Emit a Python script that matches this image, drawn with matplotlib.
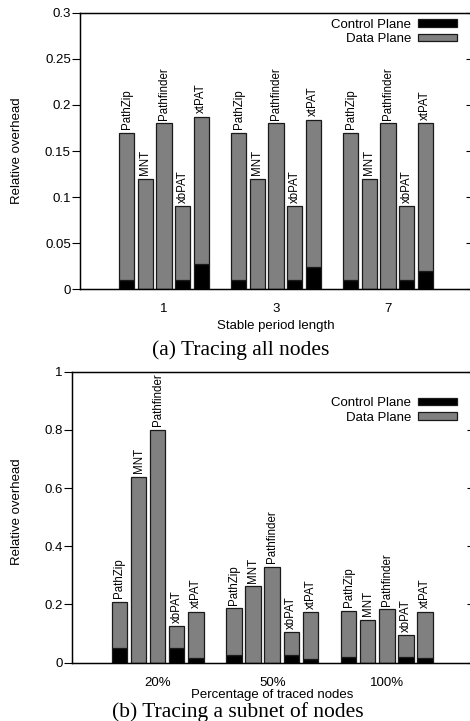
import matplotlib
matplotlib.use('Agg')
import matplotlib.pyplot as plt
import numpy as np

plt.rcParams['font.family'] = ['Liberation Sans', 'DejaVu Sans']

methods = ['PathZip', 'MNT', 'Pathfinder', 'xbPAT', 'xtPAT']

# (a) tracing all nodes
groups_a = ['1', '3', '7']
control_a = [[0.010, 0.0, 0.0, 0.010, 0.027],
             [0.010, 0.0, 0.0, 0.010, 0.024],
             [0.010, 0.0, 0.0, 0.010, 0.020]]
data_a = [[0.160, 0.120, 0.180, 0.080, 0.160],
          [0.160, 0.120, 0.180, 0.080, 0.160],
          [0.160, 0.120, 0.180, 0.080, 0.160]]

# (b) tracing a subnet of nodes
groups_b = ['20%', '50%', '100%']
control_b = [[0.050, 0.0, 0.0, 0.050, 0.015],
             [0.026, 0.0, 0.0, 0.025, 0.013],
             [0.020, 0.0, 0.0, 0.020, 0.016]]
data_b = [[0.160, 0.639, 0.800, 0.076, 0.160],
          [0.161, 0.263, 0.329, 0.079, 0.160],
          [0.158, 0.147, 0.183, 0.075, 0.159]]


def draw(ax, groups, control, data, ymax, yticks, yticklabels, xlabel,
         leg_anchor):
    n = len(methods)
    width = 0.135
    for g in range(len(groups)):
        for i in range(n):
            x = g + (i - 2) / 6.0
            c = control[g][i]
            d = data[g][i]
            ax.bar(x, c, width, color='black', edgecolor='#1a1a1a', lw=0.9,
                   label='Control Plane' if g == 0 and i == 0 else None)
            ax.bar(x, d, width, bottom=c, color='#808080', edgecolor='#1a1a1a',
                   lw=0.9, label='Data Plane' if g == 0 and i == 0 else None)
            ax.annotate(methods[i], (x, c + d), xytext=(0, 2.5),
                        textcoords='offset points', rotation=90,
                        ha='center', va='bottom', fontsize=8.3)
    ax.set_xlim(-0.75, 2.75)
    ax.set_ylim(0, ymax)
    ax.set_xticks(range(len(groups)))
    ax.set_xticklabels(groups, fontsize=9.5)
    ax.set_yticks(yticks)
    ax.set_yticklabels(yticklabels, fontsize=9.5)
    ax.tick_params(axis='x', length=0, pad=10)
    ax.tick_params(axis='y', direction='out', length=5.8, width=0.8, pad=0.8)
    ax.set_xlabel(xlabel, fontsize=9.5, labelpad=3.5)
    ax.set_ylabel('Relative overhead', fontsize=9.5)
    for s in ax.spines.values():
        s.set_linewidth(1.0)
    # mirrored ticks on the right
    ax2 = ax.twinx()
    ax2.set_ylim(0, ymax)
    ax2.set_yticks(yticks)
    ax2.set_yticklabels([])
    ax2.tick_params(axis='y', direction='in', length=4, width=0.8)
    leg = ax.legend(loc='upper right', bbox_to_anchor=leg_anchor,
                    frameon=False, markerfirst=False, fontsize=9.5,
                    handlelength=2.9, handleheight=0.5, handletextpad=0.55,
                    labelspacing=0.18, borderpad=0, borderaxespad=0)
    return leg


fig = plt.figure(figsize=(4.7, 7.21), dpi=100)

ax_a = fig.add_axes([0.1702, 0.5987, 0.8340, 0.3837])
draw(ax_a, groups_a, control_a, data_a, 0.3,
     [0, 0.05, 0.1, 0.15, 0.2, 0.25, 0.3],
     ['0', '0.05', '0.1', '0.15', '0.2', '0.25', '0.3'],
     'Stable period length', (0.961, 0.978))
ax_a.yaxis.set_label_coords(-0.145, 0.5)

ax_b = fig.add_axes([0.1526, 0.0809, 0.8532, 0.4036])
draw(ax_b, groups_b, control_b, data_b, 1.0,
     [0, 0.2, 0.4, 0.6, 0.8, 1.0],
     ['0', '0.2', '0.4', '0.6', '0.8', '1'],
     'Percentage of traced nodes', (0.960, 0.912))
ax_b.yaxis.set_label_coords(-0.122, 0.52)
ax_b.xaxis.labelpad = 0.5

fig.text(0.513, 0.515, '(a) Tracing all nodes', ha='center', va='center',
         fontsize=15.5, family='Liberation Serif')
fig.text(0.505, 0.012, '(b) Tracing a subnet of nodes', ha='center',
         va='center', fontsize=15.5, family='Liberation Serif')

plt.savefig('out.png', dpi=100)
plt.close()
